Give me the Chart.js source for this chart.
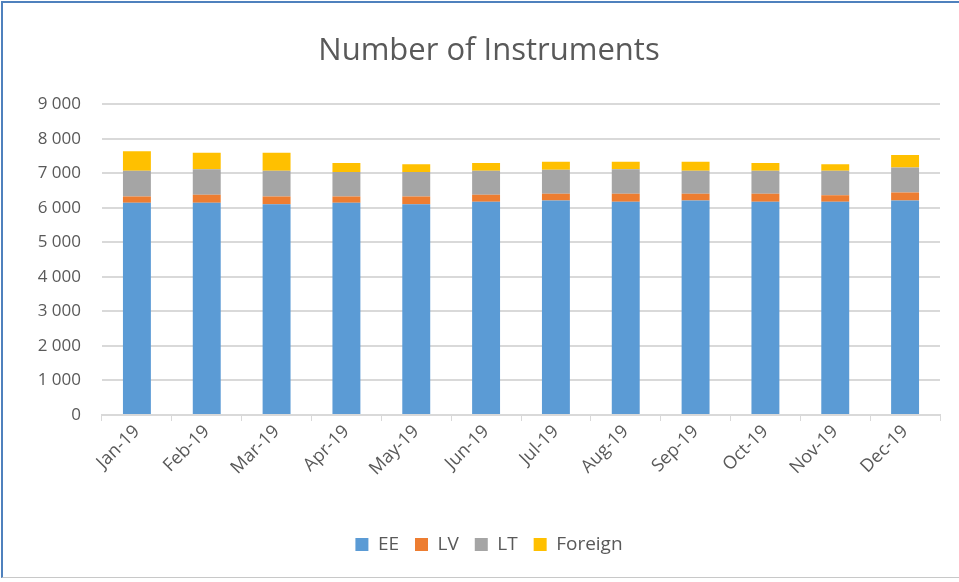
<!DOCTYPE html>
<html>
<head>
<meta charset="utf-8">
<script src="https://cdn.jsdelivr.net/npm/chart.js@4"></script>
<style>
  body { margin: 0; background: #fff; }
  #wrap { position: relative; width: 959px; height: 582px; }
  #frame {
    position: absolute; left: 1px; top: 1px; width: 958px; height: 577px;
    border-left: 2px solid #4f81bd; border-top: 2px solid #4f81bd;
    border-bottom: 1px solid #c8c8c8; box-sizing: border-box; pointer-events: none;
  }
</style>
</head>
<body>
<div id="wrap">
  <canvas id="instrumentsChart" width="959" height="582"></canvas>
  <div id="frame"></div>
</div>
<script>
// Monthly instrument counts by market
const months = ['Jan-19', 'Feb-19', 'Mar-19', 'Apr-19', 'May-19', 'Jun-19',
                'Jul-19', 'Aug-19', 'Sep-19', 'Oct-19', 'Nov-19', 'Dec-19'];
const eeCounts      = [6145, 6145, 6105, 6145, 6105, 6175, 6215, 6175, 6215, 6175, 6175, 6215];
const lvCounts      = [185, 230, 225, 185, 225, 200, 190, 230, 190, 230, 190, 230];
const ltCounts      = [745, 740, 745, 710, 710, 700, 700, 710, 670, 670, 710, 720];
const foreignCounts = [565, 480, 520, 260, 220, 220, 230, 220, 260, 220, 185, 365];
const yTicks = [0, 1000, 2000, 3000, 4000, 5000, 6000, 7000, 8000, 9000];

const textColor = '#595959';
const gridColor = '#d9d9d9';
const fontFamily = '"Open Sans", sans-serif';

function spaced(v) {
  return String(v).replace(/\B(?=(\d{3})+(?!\d))/g, ' ');
}

new Chart(document.getElementById('instrumentsChart'), {
  type: 'bar',
  data: {
    labels: months,
    datasets: [
      { label: 'EE', data: eeCounts, backgroundColor: '#5b9bd5' },
      { label: 'LV', data: lvCounts, backgroundColor: '#ed7d31' },
      { label: 'LT', data: ltCounts, backgroundColor: '#a5a5a5' },
      { label: 'Foreign', data: foreignCounts, backgroundColor: '#ffc000' }
    ]
  },
  options: {
    responsive: false,
    animation: false,
    datasets: { bar: { barPercentage: 0.4, categoryPercentage: 1.0 } },
    layout: { padding: { left: 38, right: 19, top: 0, bottom: 18 } },
    plugins: {
      title: {
        display: true,
        text: 'Number of Instruments',
        color: textColor,
        font: { family: fontFamily, size: 31, weight: 'normal' },
        padding: { top: 33, bottom: 34 }
      },
      legend: {
        position: 'bottom',
        labels: {
          color: textColor,
          font: { family: fontFamily, size: 19 },
          boxWidth: 13,
          boxHeight: 13,
          padding: 16
        }
      },
      tooltip: { enabled: false }
    },
    scales: {
      x: {
        stacked: true,
        grid: {
          offset: true,
          drawOnChartArea: false,
          color: gridColor,
          tickLength: 6,
          tickColor: gridColor
        },
        border: { color: gridColor, width: 2 },
        ticks: {
          color: textColor,
          font: { family: fontFamily, size: 18 },
          minRotation: 45,
          maxRotation: 45,
          padding: 0
        },
        afterFit: scale => { scale.height = 104; }
      },
      y: {
        stacked: true,
        min: 0,
        max: 9000,
        afterBuildTicks: scale => { scale.ticks = yTicks.map(v => ({ value: v })); },
        grid: { color: gridColor, lineWidth: 2, drawTicks: false },
        border: { display: false },
        ticks: {
          color: textColor,
          font: { family: fontFamily, size: 17 },
          padding: 21,
          callback: v => spaced(v)
        },
        afterFit: scale => { scale.width = 64; }
      }
    }
  }
});
</script>
</body>
</html>
